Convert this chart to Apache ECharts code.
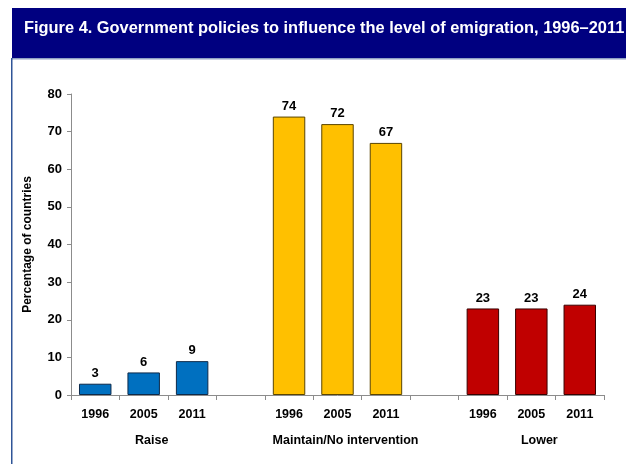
<!DOCTYPE html>
<html>
<head>
<meta charset="utf-8">
<script src="https://cdn.jsdelivr.net/npm/echarts@6/dist/echarts.min.js"></script>
<style>
  html, body { margin: 0; padding: 0; background: #ffffff; }
  #chart { width: 626px; height: 464px; }
</style>
</head>
<body>
<div id="chart"></div>
<script>
// Category slots: three years per policy group, one empty slot between groups
const yearLabels = ['1996', '2005', '2011', '', '1996', '2005', '2011', '', '1996', '2005', '2011'];
const groupLabels = ['', 'Raise', '', '', '', 'Maintain/No intervention', '', '', '', 'Lower', ''];

// Percentage of countries per policy, for 1996, 2005, 2011
const raiseValues = [3, 6, 9];
const maintainValues = [74, 72, 67];
const lowerValues = [23, 23, 24];

const yTicks = [0, 10, 20, 30, 40, 50, 60, 70, 80];

const titleText = 'Figure 4. Government policies to influence the level of emigration, 1996\u20132011';
const yAxisTitle = 'Percentage of countries';

const FONT = '"Liberation Sans", Arial, sans-serif';

// Place a group's three values into its slots in the 11-slot category axis
function placeGroup(values, startSlot) {
  const out = yearLabels.map(() => '-');
  values.forEach((v, i) => { out[startSlot + i] = v; });
  return out;
}

function barSeries(name, values, startSlot, fill, edge) {
  return {
    name: name,
    type: 'bar',
    stack: 'slot',
    barWidth: '67%',
    data: placeGroup(values, startSlot),
    itemStyle: { color: fill, borderColor: edge, borderWidth: 1 },
    label: {
      show: true,
      position: 'top',
      distance: 4,
      color: '#000000',
      fontFamily: FONT,
      fontWeight: 'bold',
      fontSize: 13
    },
    emphasis: { disabled: true }
  };
}

const chart = echarts.init(document.getElementById('chart'), null, { renderer: 'canvas' });

chart.setOption({
  animation: false,
  backgroundColor: '#ffffff',
  title: {
    text: titleText,
    left: 19,
    top: 15,
    textStyle: { color: '#ffffff', fontFamily: FONT, fontWeight: 'bold', fontSize: 16.4 }
  },
  graphic: [
    { type: 'rect', z: -1, shape: { x: 12, y: 8, width: 614, height: 50 }, style: { fill: '#000080' } },
    { type: 'rect', z: -1, shape: { x: 12, y: 58, width: 614, height: 1.5 }, style: { fill: '#8fa0c4' } },
    { type: 'rect', z: -1, shape: { x: 11, y: 58, width: 1.5, height: 406 }, style: { fill: '#2f5597' } }
  ],
  grid: { left: 71, right: 22, top: 94, bottom: 69 },
  xAxis: [
    {
      type: 'category',
      data: yearLabels,
      position: 'bottom',
      axisLine: { lineStyle: { color: '#8c8c8c', width: 1 } },
      axisTick: { show: true, length: 5, inside: false, alignWithLabel: false, lineStyle: { color: '#8c8c8c' } },
      axisLabel: {
        interval: 0,
        margin: 13,
        color: '#000000',
        fontFamily: FONT,
        fontWeight: 'bold',
        fontSize: 12.5
      },
      splitLine: { show: false }
    },
    {
      type: 'category',
      data: groupLabels,
      position: 'bottom',
      axisLine: { show: false },
      axisTick: { show: false },
      axisLabel: {
        interval: 0,
        margin: 39,
        padding: [0, 0, 0, 16],
        color: '#000000',
        fontFamily: FONT,
        fontWeight: 'bold',
        fontSize: 12.5
      },
      splitLine: { show: false }
    }
  ],
  yAxis: {
    type: 'value',
    min: yTicks[0],
    max: yTicks[yTicks.length - 1],
    interval: yTicks[1] - yTicks[0],
    name: yAxisTitle,
    nameLocation: 'middle',
    nameGap: 37,
    nameRotate: 90,
    nameTextStyle: { color: '#000000', fontFamily: FONT, fontWeight: 'bold', fontSize: 12 },
    axisLine: { show: true, lineStyle: { color: '#8c8c8c', width: 1 } },
    axisTick: { show: true, length: 4, lineStyle: { color: '#8c8c8c' } },
    axisLabel: {
      margin: 9,
      color: '#000000',
      fontFamily: FONT,
      fontWeight: 'bold',
      fontSize: 13
    },
    splitLine: { show: false }
  },
  series: [
    barSeries('Raise', raiseValues, 0, '#0070c0', '#0d2a4a'),
    barSeries('Maintain/No intervention', maintainValues, 4, '#ffc000', '#5a4500'),
    barSeries('Lower', lowerValues, 8, '#c00000', '#3a0000')
  ]
});
</script>
</body>
</html>
